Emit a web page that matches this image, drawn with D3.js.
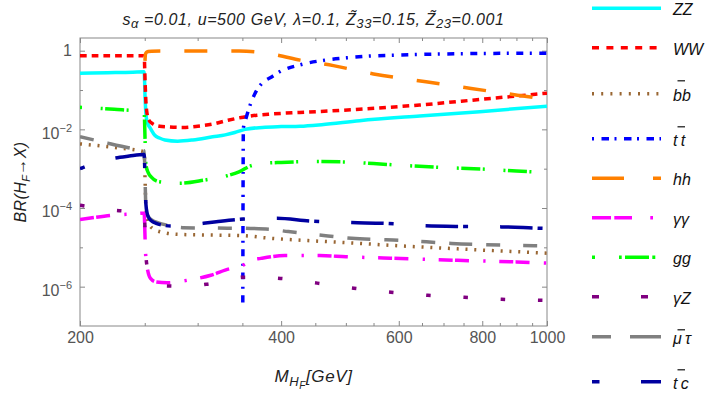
<!DOCTYPE html>
<html>
<head>
<meta charset="utf-8">
<script src="https://cdn.jsdelivr.net/npm/d3@7.9.0/dist/d3.min.js"></script>
<style>
  body { margin: 0; background: #fff; }
  svg { display: block; }
  text { font-family: "Liberation Sans", Arial, sans-serif; }
</style>
</head>
<body>
<svg id="chart" width="709" height="398"></svg>
<script>
// masses in GeV, branching ratios stored as log10(BR)
const massZZ = [200, 220, 240, 249.5, 250.3, 251, 252, 253.3, 254.8, 258.8, 263, 268, 280, 295, 316, 330, 341, 353, 375, 400, 427, 460, 524, 645, 793, 1000];
const logZZ  = [-0.575, -0.56, -0.545, -0.534, -1.2, -1.6, -1.8, -1.9, -1.97, -2.15, -2.22, -2.27, -2.30, -2.27, -2.19, -2.14, -2.08, -2.0, -1.95, -1.93, -1.92, -1.88, -1.78, -1.66, -1.55, -1.41];

const massWW = [200, 249.5, 250.3, 251, 252, 253.5, 257, 263, 272, 285, 300, 315, 333, 351, 368, 387, 403, 440, 524, 645, 793, 1000];
const logWW  = [-0.127, -0.127, -0.8, -1.3, -1.6, -1.76, -1.86, -1.92, -1.94, -1.95, -1.92, -1.87, -1.77, -1.69, -1.64, -1.61, -1.59, -1.56, -1.49, -1.38, -1.24, -1.08];

const massBB = [200, 225, 249.5, 250.3, 251, 252.5, 255, 258, 268, 280, 320, 350, 380, 430, 500, 600, 700, 800, 900, 1000];
const logBB  = [-2.37, -2.46, -2.57, -3.3, -4.0, -4.35, -4.47, -4.54, -4.63, -4.67, -4.69, -4.70, -4.76, -4.82, -4.88, -4.96, -5.02, -5.07, -5.11, -5.15];

const massTT = [350.5, 351.2, 354.5, 359.5, 365.7, 374.3, 387.6, 398.6, 427, 465, 502, 544, 603, 692, 850, 1000];
const logTT  = [-6.4, -1.97, -1.71, -1.38, -1.08, -0.83, -0.66, -0.53, -0.36, -0.24, -0.18, -0.135, -0.11, -0.084, -0.067, -0.063];

const massHH = [250.2, 250.6, 251.5, 253, 256, 300, 346, 355, 365, 380, 394, 427, 479, 550, 659, 770, 903, 1000];
const logHH  = [-0.26, -0.09, -0.04, -0.02, -0.012, -0.008, -0.008, -0.012, -0.025, -0.065, -0.11, -0.24, -0.38, -0.59, -0.79, -0.96, -1.13, -1.24];

const massAA = [200, 210, 225, 240, 249.5, 250.3, 251, 252.5, 255, 260, 270, 289, 314, 336, 347, 360, 373, 405, 457, 500, 569, 735, 900, 1000];
const logAA  = [-4.29, -4.24, -4.18, -4.15, -4.13, -4.8, -5.3, -5.58, -5.79, -5.88, -5.9, -5.84, -5.71, -5.54, -5.5, -5.33, -5.28, -5.21, -5.21, -5.24, -5.27, -5.33, -5.37, -5.40];

const massGG = [200, 225, 249.5, 250.3, 251, 253, 256, 262, 282, 307, 332, 346, 360, 380, 400, 450, 500, 550, 600, 700, 800, 900, 1000];
const logGG  = [-1.44, -1.49, -1.56, -2.3, -2.9, -3.1, -3.22, -3.33, -3.37, -3.29, -3.18, -3.08, -2.93, -2.86, -2.84, -2.82, -2.83, -2.87, -2.91, -2.97, -3.01, -3.06, -3.10];

const massAZ = [200, 224, 249.5, 250.3, 251, 252.5, 256, 262, 268, 285, 309, 330, 351, 375, 399, 453, 514, 584, 663, 752, 856, 1000];
const logAZ  = [-3.93, -4.05, -4.12, -4.6, -5.2, -5.55, -5.8, -5.93, -5.98, -5.99, -5.94, -5.85, -5.76, -5.76, -5.79, -5.91, -6.04, -6.14, -6.22, -6.27, -6.32, -6.35];

const massMT = [200, 210, 220, 238, 249.5, 250.3, 250.8, 251.4, 253, 256, 262, 271, 285, 320, 360, 385, 410, 430, 470, 510, 550, 600, 660, 720, 800, 900, 1000];
const logMT  = [-2.19, -2.27, -2.35, -2.48, -2.55, -3.3, -3.85, -4.1, -4.22, -4.3, -4.38, -4.44, -4.5, -4.51, -4.52, -4.54, -4.6, -4.64, -4.71, -4.77, -4.8, -4.82, -4.86, -4.9, -4.93, -4.95, -4.96];

const massTC = [200, 205, 212, 224, 237, 249.5, 250.3, 251, 252, 253, 256, 260, 267, 274, 290, 306, 320, 345, 360, 394, 441, 510, 569, 657, 738, 855, 960, 1000];
const logTC  = [-3.0, -2.93, -2.85, -2.74, -2.68, -2.64, -3.3, -3.9, -4.12, -4.22, -4.33, -4.39, -4.44, -4.46, -4.44, -4.39, -4.35, -4.29, -4.27, -4.26, -4.33, -4.37, -4.39, -4.45, -4.47, -4.48, -4.51, -4.52];

const xMajor = [200, 400, 600, 800, 1000];
const xMinor = [250, 300, 350, 450, 500, 550, 650, 700, 750, 850, 900, 950];
const yMajorExp = [0, -2, -4, -6];
const yMinorExp = [-1, -3, -5];

const series = [
  { mass: massZZ, logBR: logZZ, color: '#00ffff', dash: null, legendDash: null, label: 'ZZ' },
  { mass: massWW, logBR: logWW, color: '#ff0000', dash: '6.7,5', legendDash: '7,7.4', label: 'WW' },
  { mass: massBB, logBR: logBB, color: '#996633', dash: '2,6.8', legendDash: '2,7.2', label: 'bb', bar: 20 },
  { mass: massTT, logBR: logTT, color: '#0000ff', dash: '7,6.5,2,7.5', legendDash: '2,7.5,7.5,5.5', label: 't\u2009t', bar: 19 },
  { mass: massHH, logBR: logHH, color: '#ff8000', dash: '23,24', legendDash: '32,29', label: 'hh' },
  { mass: massAA, logBR: logAA, color: '#ff00ff', dash: '14,2.3,14,14.3,2.3,13.7', legendDash: '19,3.3,17.7,18.3,2.7,18', label: 'γγ' },
  { mass: massGG, logBR: logGG, color: '#00ff00', dash: '2,2.5,19,2.5,2,18.7', offset: 26, legendDash: '3,24,2.7,3.3,24,3.3', label: 'gg' },
  { mass: massAZ, logBR: logAZ, color: '#800080', dash: '4.5,32.8', legendDash: '7,42', label: 'γZ' },
  { mass: massMT, logBR: logMT, color: '#808080', dash: '14,14,23,14,14,23', legendDash: '19,19,31,19,19,31', label: 'μ\u2009τ', bar: 14 },
  { mass: massTC, logBR: logTC, color: '#0000a0', dash: '32.5,5,5,32', offset: 37.5, legendDash: '7.5,41.5,42,6.5', label: 't\u2009c', bar: 19 }
];

const svg = d3.select('#chart');
const plotLeft = 80, plotRight = 547, plotTop = 38, plotBottom = 326;

const x = d3.scaleLog().domain([200, 1000]).range([plotLeft, plotRight]);
const y = d3.scaleLog().domain([1e-7, Math.pow(10, 0.323)]).range([plotBottom, plotTop]);

svg.append('clipPath').attr('id', 'plot-clip')
  .append('rect')
  .attr('x', plotLeft).attr('y', plotTop)
  .attr('width', plotRight - plotLeft).attr('height', plotBottom - plotTop);

// frame ticks on all four sides
function styleAxis(g) {
  g.select('.domain').remove();
  g.selectAll('line').attr('stroke', '#888');
  g.selectAll('text').attr('fill', '#555').attr('font-size', 16);
}

svg.append('g').attr('transform', `translate(0,${plotBottom})`)
  .call(d3.axisBottom(x).tickValues(xMinor).tickSize(-3).tickFormat(''))
  .call(styleAxis);
svg.append('g').attr('transform', `translate(0,${plotTop})`)
  .call(d3.axisTop(x).tickValues(xMinor).tickSize(-3).tickFormat(''))
  .call(styleAxis);
svg.append('g').attr('transform', `translate(0,${plotTop})`)
  .call(d3.axisTop(x).tickValues(xMajor).tickSize(-5).tickFormat(''))
  .call(styleAxis);
svg.append('g').attr('transform', `translate(0,${plotBottom})`)
  .call(d3.axisBottom(x).tickValues(xMajor).tickSize(-5).tickFormat(d3.format('d')))
  .call(styleAxis)
  .call(g => g.selectAll('text').attr('y', 17).attr('dy', null));

const yMajor = yMajorExp.map(e => Math.pow(10, e));
const yMinor = yMinorExp.map(e => Math.pow(10, e));

svg.append('g').attr('transform', `translate(${plotLeft},0)`)
  .call(d3.axisLeft(y).tickValues(yMinor).tickSize(-3).tickFormat(''))
  .call(styleAxis);
svg.append('g').attr('transform', `translate(${plotRight},0)`)
  .call(d3.axisRight(y).tickValues(yMinor).tickSize(-3).tickFormat(''))
  .call(styleAxis);
svg.append('g').attr('transform', `translate(${plotRight},0)`)
  .call(d3.axisRight(y).tickValues(yMajor).tickSize(-5).tickFormat(''))
  .call(styleAxis);
svg.append('g').attr('transform', `translate(${plotLeft},0)`)
  .call(d3.axisLeft(y).tickValues(yMajor).tickSize(-5).tickPadding(8).tickFormat(''))
  .call(styleAxis)
  .call(g => g.selectAll('text').each(function (d) {
    const t = d3.select(this);
    const e = Math.round(Math.log10(d));
    if (e === 0) {
      t.text('1');
    } else {
      t.attr('dy', '0.56em');
      t.append('tspan').text('10');
      t.append('tspan').attr('dy', -7).attr('font-size', 11).text('\u2212' + Math.abs(e));
    }
  }));

svg.append('rect')
  .attr('x', plotLeft).attr('y', plotTop)
  .attr('width', plotRight - plotLeft).attr('height', plotBottom - plotTop)
  .attr('fill', 'none').attr('stroke', '#888').attr('stroke-width', 1);

// curves
const line = d3.line()
  .x(d => x(d[0]))
  .y(d => y(Math.pow(10, d[1])))
  .curve(d3.curveMonotoneX);

const curves = svg.append('g').attr('clip-path', 'url(#plot-clip)');
series.forEach(s => {
  curves.append('path')
    .attr('d', line(d3.zip(s.mass, s.logBR)))
    .attr('fill', 'none')
    .attr('stroke', s.color)
    .attr('stroke-width', 3.5)
    .attr('stroke-linecap', 'butt')
    .attr('stroke-linejoin', 'round')
    .attr('stroke-dasharray', s.dash)
    .attr('stroke-dashoffset', s.offset || 0);
});

// legend
const legend = svg.append('g');
let rowY = 8.3;
series.forEach((s, i) => {
  if (i > 0) rowY += 39.5 + (s.bar ? s.bar - 13.5 : 0);
  legend.append('line')
    .attr('x1', 592).attr('x2', 661)
    .attr('y1', rowY).attr('y2', rowY)
    .attr('stroke', s.color)
    .attr('stroke-width', 3.5)
    .attr('stroke-dasharray', s.legendDash);
  legend.append('text')
    .attr('x', 673).attr('y', rowY + 7)
    .attr('font-size', 16)
    .attr('font-style', 'italic')
    .attr('fill', '#111')
    .text(s.label);
  if (s.bar) {
    legend.append('line')
      .attr('x1', 677.5).attr('x2', 685)
      .attr('y1', rowY + 7 - s.bar).attr('y2', rowY + 7 - s.bar)
      .attr('stroke', '#111').attr('stroke-width', 1.2);
  }
});

// title
const title = svg.append('text')
  .attr('x', (plotLeft + plotRight) / 2).attr('y', 25)
  .attr('text-anchor', 'middle')
  .attr('font-size', 16)
  .attr('letter-spacing', 0.6)
  .attr('font-style', 'italic')
  .attr('fill', '#222');
title.append('tspan').text('s');
title.append('tspan').attr('dy', 3).attr('font-size', 13).text('α');
title.append('tspan').attr('dy', -3).text(' =0.01, u=500 GeV, λ=0.1, Z\u0303');
title.append('tspan').attr('dy', 3).attr('font-size', 13).text('33');
title.append('tspan').attr('dy', -3).text('=0.15, Z\u0303');
title.append('tspan').attr('dy', 3).attr('font-size', 13).text('23');
title.append('tspan').attr('dy', -3).text('=0.001');

// axis labels
const yLabel = svg.append('text')
  .attr('transform', `translate(26,${(plotTop + plotBottom) / 2}) rotate(-90)`)
  .attr('text-anchor', 'middle')
  .attr('font-size', 16)
  .attr('letter-spacing', 0.4)
  .attr('font-style', 'italic')
  .attr('fill', '#222');
yLabel.append('tspan').text('BR(H');
yLabel.append('tspan').attr('dy', 4).attr('font-size', 11).text('F');
yLabel.append('tspan').attr('dy', -4).text('\u2192X)');

const xLabel = svg.append('text')
  .attr('x', (plotLeft + plotRight) / 2).attr('y', 382)
  .attr('text-anchor', 'middle')
  .attr('font-size', 17)
  .attr('letter-spacing', 0.6)
  .attr('font-style', 'italic')
  .attr('fill', '#222');
xLabel.append('tspan').text('M');
xLabel.append('tspan').attr('dy', 4).attr('font-size', 13).text('H');
xLabel.append('tspan').attr('dy', 3).attr('font-size', 10).text('F');
xLabel.append('tspan').attr('dy', -7).text('[GeV]');
</script>
</body>
</html>
